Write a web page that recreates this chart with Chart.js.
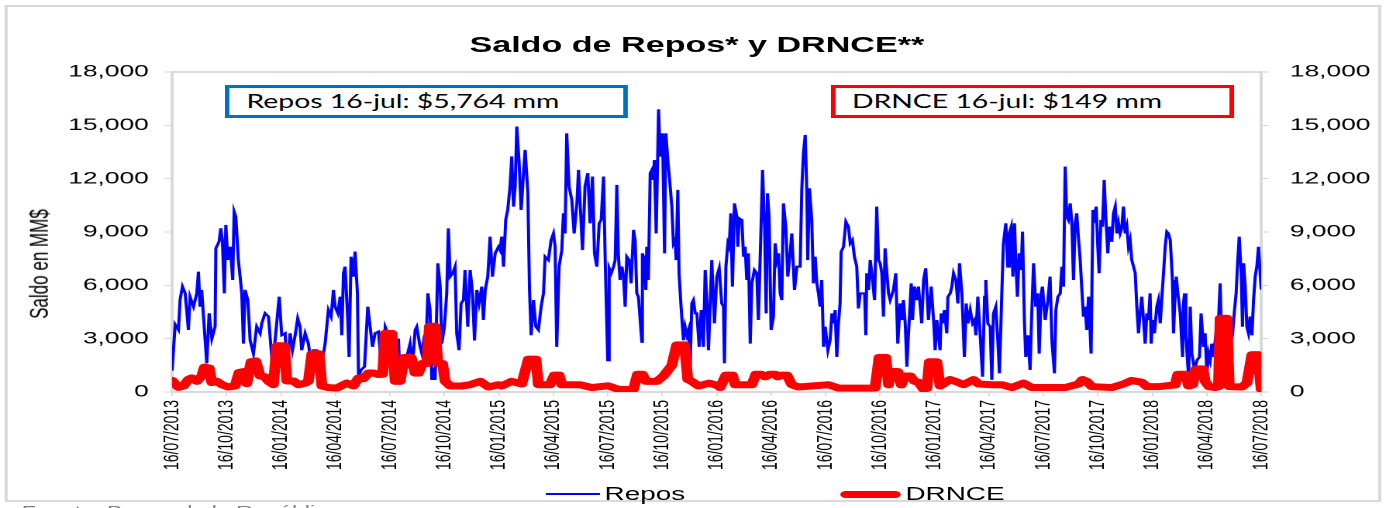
<!DOCTYPE html>
<html>
<head>
<meta charset="utf-8">
<script src="https://cdn.jsdelivr.net/npm/chart.js@4"></script>
<style>
  html, body { margin: 0; padding: 0; background: #fff; overflow: hidden; }
  /* la lámina original está estirada a lo ancho: se dibuja a 894px y se estira a 1386px */
  #lamina { position: absolute; left: 0; top: 0; width: 894px; height: 508px;
            transform: scaleX(1.5503); transform-origin: 0 0;
            font-family: 'Liberation Sans', Arial, sans-serif; }
  #marco { position: absolute; left: 3px; top: 5px; width: 888px; height: 497px;
           border: 2px solid #d9d9d9; box-sizing: border-box; }
  #caja { position: absolute; left: 0; top: 0; width: 894px; height: 508px; }
  #titulo { position: absolute; left: 0; width: 899px; top: 32px; text-align: center;
            font-weight: bold; font-size: 22px; line-height: 26px; color: #000; }
  #tituloY { position: absolute; left: 26px; top: 264px; font-size: 17px; white-space: nowrap;
             transform: translate(-50%, -50%) rotate(-90deg); color: #000; }
  .recuadro { position: absolute; top: 85px; width: 260px; height: 33px; box-sizing: border-box;
              font-family: Lato, 'Open Sans', sans-serif; font-size: 18.3px; line-height: 27px;
              padding-left: 11px; color: #000; white-space: nowrap; background: #fff; }
  #recRepos { left: 145px; border: 3px solid #0070C0; }
  #recDrnce { left: 535.5px; border: 3px solid #FF0000; }
  .ley { position: absolute; top: 483px; height: 22px; font-size: 18px; line-height: 22px; color: #000; }
  .muestra { position: absolute; }
  #fuente { position: absolute; left: 14px; top: 502px; font-size: 15px; color: #7f7f7f; white-space: nowrap; }
</style>
</head>
<body>
<div id="lamina">
  <div id="marco"></div>
  <div id="caja"><canvas id="grafico"></canvas></div>
  <div id="titulo">Saldo de Repos* y DRNCE**</div>
  <div id="tituloY">Saldo en MM$</div>
  <div class="recuadro" id="recRepos"></div>
  <div class="recuadro" id="recDrnce"></div>
  <div class="muestra" style="left:351.6px;top:493px;width:35.5px;height:2px;background:#0000FF"></div>
  <div class="ley" style="left:390px">Repos</div>
  <div class="muestra" style="left:542px;top:490.5px;width:38.7px;height:7px;border-radius:3.5px;background:#FF0000"></div>
  <div class="ley" style="left:584px">DRNCE</div>
  <div id="fuente">Fuente: Banco de la República</div>
</div>
<script>
// eje x: meses transcurridos desde el 16/07/2013
var etiquetasFecha = ['16/07/2013', '16/10/2013', '16/01/2014', '16/04/2014', '16/07/2014',
    '16/10/2014', '16/01/2015', '16/04/2015', '16/07/2015', '16/10/2015', '16/01/2016',
    '16/04/2016', '16/07/2016', '16/10/2016', '16/01/2017', '16/04/2017', '16/07/2017',
    '16/10/2017', '16/01/2018', '16/04/2018', '16/07/2018'];

var mesesRepos = [
    0,0.17,0.35,0.44,0.57,0.72,0.90,0.99,1.18,1.36,1.45,1.54,1.63,1.73,1.91,2.04,2.19,2.37,2.41,2.59,2.68,2.77,2.88,2.96,3.07,3.20,3.34,3.42,3.51,3.65,3.84,3.93,4.02,4.17,4.30,4.48,4.66,4.85,4.94,5.12,5.31,5.49,5.64,
    5.90,6.04,6.23,6.32,6.50,6.63,6.78,6.92,7.05,7.14,7.33,7.51,7.66,7.79,7.97,8.15,8.28,8.43,8.61,8.76,8.89,8.98,9.13,9.26,9.35,9.44,9.53,9.68,9.75,9.86,9.99,10.08,10.21,10.27,10.41,10.60,10.78,10.91,11.04,11.18,11.37,11.55,11.74,11.92,
    12.10,12.29,12.47,12.56,12.75,12.93,13.11,13.24,13.39,13.48,13.66,13.76,13.90,13.98,14.09,14.21,14.31,14.40,14.49,14.64,14.77,14.86,15.00,15.13,15.22,15.32,15.46,15.59,15.68,15.81,15.92,16.05,16.14,16.29,16.42,16.55,16.66,16.79,16.91,17.06,17.15,17.25,17.39,17.52,17.65,17.80,17.98,
    18.07,18.16,18.26,18.38,18.49,18.62,18.71,18.81,18.90,18.99,19.12,19.23,19.36,19.45,19.60,19.69,19.78,19.91,20.04,20.18,20.33,20.46,20.55,20.73,20.88,21.01,21.10,21.19,21.32,21.47,21.56,21.65,21.74,21.87,22.02,22.15,22.30,22.39,22.48,22.61,22.75,22.90,23.03,23.16,23.27,23.40,23.53,23.64,23.77,23.86,24.00,24.08,
    24.19,24.32,24.41,24.50,24.59,24.68,24.78,24.87,24.96,25.05,25.18,25.29,25.42,25.51,25.60,25.69,25.88,25.91,26.02,26.10,26.15,26.24,26.34,26.43,26.52,26.57,26.67,26.80,26.89,27.02,27.13,27.20,27.31,27.44,27.53,27.62,27.71,27.77,27.86,27.93,28.04,28.17,28.26,28.36,28.45,28.54,28.63,28.72,28.82,28.91,29.04,29.15,29.27,29.37,29.46,29.55,29.64,29.73,29.88,30.01,30.14,
    30.28,30.38,30.43,30.51,30.62,30.69,30.78,30.87,30.98,31.11,31.17,31.24,31.39,31.48,31.57,31.66,31.75,31.85,31.94,32.08,32.21,32.30,32.40,32.53,32.64,32.73,32.80,32.89,33.00,33.13,33.22,33.32,33.41,33.50,33.59,33.68,33.81,33.92,34.05,34.14,34.29,34.42,34.60,34.69,34.78,34.88,34.97,35.02,35.11,35.24,35.33,35.43,35.52,35.61,35.70,35.79,35.89,35.98,36.13,36.25,
    36.35,36.44,36.53,36.62,36.71,36.80,36.86,36.99,37.12,37.26,37.36,37.48,37.59,37.72,37.81,37.91,38.03,38.15,38.22,38.27,38.37,38.46,38.55,38.70,38.82,38.92,39.01,39.10,39.19,39.28,39.38,39.47,39.56,39.74,39.87,39.98,40.11,40.20,40.29,40.39,40.48,40.57,40.72,40.79,40.90,41.03,41.12,41.30,41.40,41.52,41.67,41.82,41.95,42.04,42.13,42.31,
    42.37,42.44,42.55,42.68,42.74,42.87,42.96,43.05,43.18,43.29,43.38,43.51,43.65,43.75,43.84,43.97,44.10,44.21,44.28,44.39,44.52,44.65,44.76,44.83,44.94,45.07,45.16,45.25,45.38,45.49,45.58,45.71,45.80,45.93,46.04,46.12,46.23,46.32,46.41,46.48,46.57,46.67,46.78,46.85,46.96,47.03,47.14,47.27,47.36,47.46,47.58,47.69,47.77,47.88,47.95,48.10,48.25,48.37,
    48.47,48.61,48.69,48.80,48.93,49.02,49.11,49.20,49.29,49.38,49.48,49.57,49.66,49.75,49.84,49.94,50.03,50.12,50.21,50.30,50.39,50.49,50.63,50.73,50.82,50.91,51.00,51.07,51.17,51.26,51.35,51.44,51.55,51.64,51.77,51.86,51.96,52.05,52.14,52.23,52.32,52.41,52.51,52.60,52.69,52.78,52.87,52.97,53.06,53.15,53.24,53.33,53.42,53.52,53.61,53.70,53.79,53.88,53.94,54.01,54.12,54.25,54.34,
    54.44,54.53,54.62,54.71,54.80,54.89,54.99,55.11,55.17,55.26,55.32,55.41,55.54,55.67,55.72,55.78,55.85,56.00,56.09,56.18,56.33,56.46,56.60,56.69,56.82,56.91,57.01,57.10,57.19,57.28,57.37,57.47,57.56,57.65,57.74,57.83,57.92,58.05,58.20,58.29,58.42,58.53,58.62,58.71,58.79,58.90,58.97,59.03,59.12,59.21,59.30,59.39,59.49,59.58,59.67,59.76,59.85,60
];
var saldoRepos = [
    1200,3800,3500,5180,5930,5550,3490,5360,4800,5550,6770,4800,5740,4240,1610,4430,3000,3680,8080,8460,9210,8550,5550,9400,7430,8170,6300,10140,9860,7430,5550,2720,5740,5180,2900,2160,3680,3300,3860,4430,4240,1970,2530,
    5360,3190,3300,1050,3300,2350,3190,4140,3670,2350,3300,2720,1600,2350,2350,1970,1780,2720,4610,4240,5740,4800,4430,5360,3190,6680,7050,4050,1970,7610,6490,7900,5550,860,1240,1420,4800,3670,2540,3300,3400,1240,3670,3190,
    1050,680,3000,680,860,1970,2720,1420,3490,3670,2540,2160,3190,2350,5550,4610,680,1050,680,7240,5930,2720,3670,5550,9200,6490,6680,7050,3300,2350,4980,5170,6860,3670,6860,5550,2900,5740,4980,5930,4050,5740,6490,8740,6490,7800,8170,
    7980,8740,7050,9680,10240,11560,13250,10430,11560,14930,12870,10240,12310,13620,11180,5740,3190,5170,3670,3490,4800,5550,7610,7420,8550,8920,8170,2540,7050,7980,10050,8920,14550,11560,10800,8920,10610,12490,10610,7980,11560,12310,9490,12120,7800,7050,9490,9680,12120,7420,1780,6960,
    6680,7050,7420,11650,7610,6300,7050,6490,4800,7610,7420,6110,9120,8550,5550,5360,2820,7800,7420,5740,8170,6300,12310,12490,11930,13050,8920,15900,13240,14550,7800,14550,13050,11560,10430,8360,8550,7420,11370,6680,4800,2910,3670,3190,3490,1240,4980,5170,4420,4420,2540,4610,2540,6860,5170,2350,4800,7420,3860,6490,6960,
    4980,4800,1610,7050,8360,8170,10050,5930,10610,9870,8170,9770,9680,7610,8170,6300,7800,2720,6110,6860,6680,4050,7610,12490,9300,4420,11180,9870,3490,4240,8360,7420,7800,5550,5170,10610,9300,6490,7800,8920,5740,7050,7050,11370,13430,14460,11180,7420,11460,9680,6110,7610,6110,5550,4800,6300,2540,3670,2350,2910,
    4420,3860,4610,1970,3860,4980,7890,8170,9580,9300,8360,8550,7610,7050,4700,5550,5550,5550,3190,6680,5740,7420,6680,5170,10430,7420,7240,6680,4240,8080,6680,5550,5170,5740,6680,2720,4980,4050,5170,3860,1420,3300,6110,4050,5930,5170,5930,3860,6300,6960,4050,5930,4050,2350,4050,2350,
    4420,3860,4610,3300,5360,5550,5930,6680,6300,4980,7240,5550,1970,4980,3860,4610,3860,4050,3190,5360,3190,860,5360,6300,3860,3670,680,4420,4800,2910,1050,5550,8360,9490,7050,8920,9300,6490,9490,7420,5360,7800,6860,9020,3860,1970,3190,1240,4420,7240,4800,5550,2160,5550,5930,4050,5170,6490,
    2910,1050,4610,5360,5550,7050,5930,12680,9870,9680,10610,9490,6300,9490,10050,8550,7420,5740,4240,4800,3490,5360,2160,10240,9870,10430,8170,6680,9680,9300,11930,9870,7800,9300,8450,10050,10430,8920,9490,8920,9210,10430,8920,9300,8170,8550,7420,7050,6680,4800,3300,4420,5360,4050,2720,4420,4050,5550,2720,4050,3300,4800,5170,
    3860,5360,6680,8170,9020,8920,8550,6300,3300,5550,6490,5550,4420,1970,4980,5550,3190,860,4800,2160,1240,1780,1970,4420,2540,3300,1050,2160,1780,2720,1970,2910,3670,4050,6110,2160,2720,2540,1050,2720,3190,4610,5550,7420,8740,6680,3670,7240,5930,3670,3300,4240,3190,5170,6490,7050,8170,5764
];

var mesesDrnce = [
    0,0.35,0.63,0.90,1.08, 1.36,1.63,1.78,2.04,2.19, 2.46,2.74,3.10,3.47,3.69, 3.93,4.11,4.35,4.61,4.85,
    5.12,5.31,5.58,5.77,6.19, 6.32,6.69,6.96,7.33,7.51, 7.70,8.10,8.25,8.61,9.07, 9.62,9.99,10.27,10.54,10.82,
    11.09,11.37,11.60,11.74,12.10, 12.29,12.56,12.80,13.17,13.39, 13.57,13.79,14.03,14.18,14.49, 14.64,14.90,15.04,15.32,15.96,
    16.42,16.97,17.43,17.98,18.16, 18.71,19.26,19.63,20.04,20.18, 20.82,21.06,21.32,21.47,22.48, 23.12,24.00,24.59,25.42,25.64,
    25.91,26.10,26.71,27.07,27.53, 27.80,28.23,28.41,28.63,29.00, 29.59,30.10,30.19,30.51,30.87, 31.02,31.94,32.16,32.45,32.67,
    32.94,33.22,33.37,33.59,33.87, 34.14,34.51,36.16,36.71,38.73, 38.95,39.32,39.47,39.61,39.98, 40.17,40.35,40.66,40.90,41.12,
    41.40,41.58,41.72,42.13,42.31, 42.86,43.14,43.60,44.15,44.43, 45.16,45.71,46.26,46.90,47.36, 48.37,49.20,49.94,50.15,50.39,
    50.67,51.77,52.41,52.87,53.42, 53.70,54.34,54.71,55.26,55.41, 55.85,56.00,56.22,56.40,56.79, 56.91,57.13,57.47,57.65,57.74,
    58.11,58.24,58.93,59.21,59.49, 59.82,60
];
var saldoDrnce = [
    650,260,340,710,790, 600,900,1400,1350,530, 600,410,280,340,1100, 1150,470,1700,1750,900,
    850,600,410,2600,2600, 620,620,410,500,600, 2150,2150,340,250,220, 500,340,790,750,1070,
    1070,980,1000,3300,3300, 600,600,1950,1950,1060, 1060,1600,1600,3700,3700, 1600,1600,600,340,340,
    410,600,280,410,340, 600,450,1850,1850,410, 410,950,950,410,410, 250,350,150,150,1000,
    1000,600,600,900,1500, 2650,2650,700,600,340, 500,340,250,950,950, 410,410,1000,1000,850,
    1000,1000,850,950,950, 410,280,410,220,220, 1950,1950,400,1150,1150, 400,900,900,600,550,
    150,200,1700,1700,340, 700,600,410,700,450, 410,410,250,500,250, 250,250,450,700,600,
    300,250,450,650,550, 300,300,340,400,1000, 1000,340,400,1300,1300, 600,300,250,300,4150,
    4150,300,280,500,2100, 2100,149
];

var fuente = "'Liberation Sans', Arial, sans-serif";
Chart.defaults.font.family = fuente;
Chart.defaults.color = '#000';

function puntos(meses, valores) {
    if (meses.length !== valores.length) console.warn('longitudes distintas', meses.length, valores.length);
    return meses.map((m, i) => ({x: m, y: valores[i]}));
}

function miles(v) {
    return Number(v).toLocaleString('en-US');
}

function ultimo(arr) {
    return arr[arr.length - 1];
}

// recuadros con el último dato de cada serie
document.getElementById('recRepos').textContent = `Repos 16-jul: $${miles(ultimo(saldoRepos))} mm`;
document.getElementById('recDrnce').textContent = `DRNCE 16-jul: $${miles(ultimo(saldoDrnce))} mm`;

// borde gris del área de trazado
var marcoArea = {
    id: 'marcoArea',
    beforeDatasetsDraw(chart) {
        var a = chart.chartArea, ctx = chart.ctx;
        ctx.save();
        ctx.strokeStyle = '#d9d9d9';
        ctx.lineWidth = 2;
        ctx.strokeRect(a.left, a.top, a.right - a.left, a.bottom - a.top);
        ctx.restore();
    }
};

var ejeY = function (pos, ancho, pad) {
    return {
        type: 'linear', position: pos, min: 0, max: 18000,
        ticks: {stepSize: 3000, padding: pad, font: {size: 17}, color: '#000', callback: v => miles(v)},
        grid: {drawOnChartArea: false, tickLength: 5, color: '#d9d9d9'},
        border: {color: '#d9d9d9', width: 2},
        afterFit: function (s) { s.width = ancho; }
    };
};

new Chart(document.getElementById('grafico'), {
    type: 'line',
    data: {
        datasets: [{
            label: 'Repos',
            data: puntos(mesesRepos, saldoRepos),
            borderColor: '#0000FF',
            borderWidth: 2,
            pointRadius: 0,
            tension: 0,
            order: 2,
            yAxisID: 'y'
        }, {
            label: 'DRNCE',
            data: puntos(mesesDrnce, saldoDrnce),
            borderColor: '#FF0000',
            borderWidth: 7,
            borderJoinStyle: 'round',
            borderCapStyle: 'round',
            pointRadius: 0,
            tension: 0,
            order: 1,
            yAxisID: 'y2'
        }]
    },
    options: {
        responsive: true,
        maintainAspectRatio: false,
        animation: false,
        devicePixelRatio: 2,
        layout: {padding: {left: 11, right: 5.5, top: 72, bottom: 36}},
        plugins: {
            legend: {display: false},
            title: {display: false},
            tooltip: {enabled: false}
        },
        scales: {
            x: {
                type: 'linear', min: 0, max: 60,
                ticks: {
                    stepSize: 3, autoSkip: false, maxRotation: 90, minRotation: 90,
                    padding: 4, font: {size: 14}, color: '#000',
                    callback: v => etiquetasFecha[Math.round(v / 3)]
                },
                grid: {drawOnChartArea: false, tickLength: 4, color: '#d9d9d9'},
                border: {color: '#d9d9d9', width: 2},
                afterFit: function (s) { s.height = 80; }
            },
            y: ejeY('left', 100, 10),
            y2: ejeY('right', 75, 13.5)
        }
    },
    plugins: [marcoArea]
});
</script>
</body>
</html>
